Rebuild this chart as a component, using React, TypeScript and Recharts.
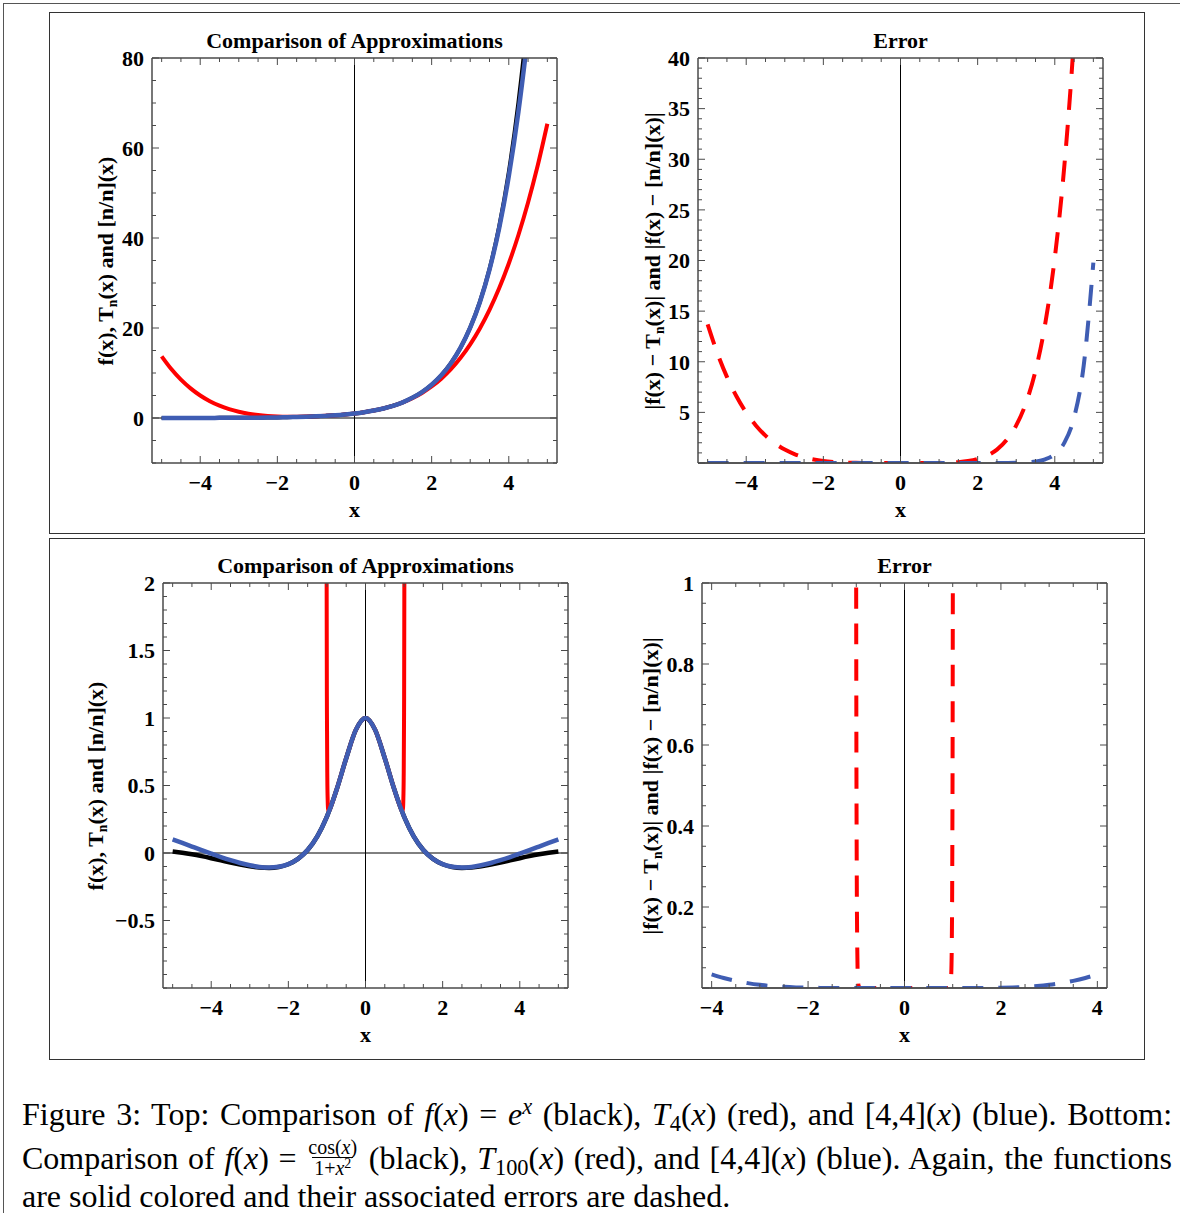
import React from 'react';
import { LineChart, Line, XAxis, YAxis, ReferenceLine } from 'recharts';

// top row: f(x) = e^x, T4 and [4/4]
const xTop = [
  -5, -4.75, -4.5, -4.25, -4, -3.75, -3.5, -3.25, -3, -2.75, -2.5, -2.25, -2, -1.75, -1.5, -1.25, -1, -0.75, -0.5, -0.25,
  0, 0.25, 0.5, 0.75, 1, 1.25, 1.5, 1.75, 2, 2.25, 2.5, 2.75, 3, 3.25, 3.5, 3.75, 4, 4.25, 4.5, 4.75, 5,
];
const expTop = [
  0.0067, 0.0087, 0.0111, 0.0143, 0.0183, 0.0235, 0.0302, 0.0388, 0.0498, 0.0639, 0.0821, 0.1054, 0.1353, 0.1738, 0.2231,
  0.2865, 0.3679, 0.4724, 0.6065, 0.7788, 1, 1.284, 1.649, 2.117, 2.718, 3.49, 4.482, 5.755, 7.389, 9.488, 12.18, 15.64,
  20.09, 25.79, 33.12, 42.52, 54.6, 70.11, 90.02, 115.6, 148.4,
];
const taylorTop = [
  13.71, 10.88, 8.523, 6.581, 5.0, 3.732, 2.732, 1.959, 1.375, 0.948, 0.648, 0.451, 0.333, 0.279, 0.273, 0.307, 0.375,
  0.474, 0.607, 0.779, 1, 1.284, 1.648, 2.115, 2.708, 3.458, 4.398, 5.565, 7.0, 8.747, 10.86, 13.38, 16.38, 19.9, 24.02,
  28.81, 34.33, 40.67, 47.9, 56.1, 65.38,
];
const padeTop = [
  0.0078, 0.0094, 0.0117, 0.0147, 0.0186, 0.0237, 0.0303, 0.0389, 0.0498, 0.0639, 0.0821, 0.1054, 0.1353, 0.1738, 0.2231,
  0.2865, 0.3679, 0.4724, 0.6065, 0.7788, 1, 1.284, 1.649, 2.117, 2.718, 3.49, 4.482, 5.755, 7.389, 9.487, 12.18, 15.64,
  20.07, 25.74, 32.97, 42.16, 53.73, 68.09, 85.53, 105.9, 128.6,
];
const errTaylorTop = [
  13.7, 10.87, 8.512, 6.567, 4.982, 3.708, 2.702, 1.92, 1.325, 0.884, 0.566, 0.346, 0.198, 0.105, 0.05, 0.021, 0.007,
  0.002, 0.0003, 0, 0, 0, 0.0003, 0.002, 0.01, 0.032, 0.084, 0.19, 0.389, 0.741, 1.325, 2.262, 3.711, 5.889, 9.091, 13.71,
  20.27, 29.44, 42.12, 59.5, 83.0,
];
const errPadeTop = [
  0.0011, 0.0007, 0.0006, 0.0004, 0.0003, 0.0002, 0.0001, 0.0001, 0, 0, 0, 0, 0, 0, 0, 0, 0, 0, 0, 0, 0, 0, 0, 0, 0, 0, 0,
  0, 0, 0.001, 0.002, 0.007, 0.02, 0.055, 0.144, 0.36, 0.871, 2.01, 4.49, 9.63, 19.79,
];

// bottom row: f(x) = cos(x)/(1+x^2), T100 and [4/4]
const xBot = [
  -5, -4.75, -4.5, -4.25, -4, -3.75, -3.5, -3.25, -3, -2.75, -2.5, -2.25, -2, -1.75, -1.5, -1.25,
  -1.02, -1.01, -1, -0.99, -0.98, -0.97, -0.95, -0.9, -0.75, -0.5, -0.25, 0, 0.25, 0.5, 0.75,
  0.9, 0.95, 0.97, 0.98, 0.99, 1, 1.01, 1.02,
  1.25, 1.5, 1.75, 2, 2.25, 2.5, 2.75, 3, 3.25, 3.5, 3.75, 4, 4.25, 4.5, 4.75, 5,
];
const fBot = [
  0.0109, 0.0016, -0.0099, -0.0234, -0.0385, -0.0545, -0.0707, -0.086, -0.099, -0.108, -0.1105, -0.1036, -0.0832, -0.0439,
  0.0218, 0.1231, 0.2565, 0.2633, 0.2702, 0.2771, 0.2841, 0.2913, 0.3057, 0.3434, 0.4683, 0.7021, 0.9119, 1, 0.9119,
  0.7021, 0.4683, 0.3434, 0.3057, 0.2913, 0.2841, 0.2771, 0.2702, 0.2633, 0.2565, 0.1231, 0.0218, -0.0439, -0.0832,
  -0.1036, -0.1105, -0.108, -0.099, -0.086, -0.0707, -0.0545, -0.0385, -0.0234, -0.0099, 0.0016, 0.0109,
];
const padeBot = [
  0.1003, 0.0742, 0.0477, 0.0213, -0.0046, -0.0297, -0.0531, -0.074, -0.0912, -0.1032, -0.1077, -0.1022, -0.0825, -0.0436,
  0.0219, 0.1231, 0.2565, 0.2633, 0.2702, 0.2771, 0.2841, 0.2913, 0.3057, 0.3434, 0.4683, 0.7021, 0.9119, 1, 0.9119,
  0.7021, 0.4683, 0.3434, 0.3057, 0.2913, 0.2841, 0.2771, 0.2702, 0.2633, 0.2565, 0.1231, 0.0219, -0.0436, -0.0825,
  -0.1022, -0.1077, -0.1032, -0.0912, -0.074, -0.0531, -0.0297, -0.0046, 0.0213, 0.0477, 0.0742, 0.1003,
];
const taylorBot = [
  null, null, null, null, null, null, null, null, null, null, null, null, null, null, null, null,
  5.957, 2.371, 1.0417, 0.5567, 0.3844, 0.3269, 0.3101, 0.3434, 0.4683, 0.7021, 0.9119, 1, 0.9119, 0.7021, 0.4683,
  0.3434, 0.3101, 0.3269, 0.3844, 0.5567, 1.0417, 2.371, 5.957,
  null, null, null, null, null, null, null, null, null, null, null, null, null, null, null, null,
];

const xErrBot = [
  -4, -3.75, -3.5, -3.25, -3, -2.75, -2.5, -2.25, -2, -1.75, -1.5, -1.25,
  -1.02, -1.01, -1, -0.99, -0.98, -0.97, -0.95, -0.9, -0.75, -0.5, -0.25, 0, 0.25, 0.5, 0.75,
  0.9, 0.95, 0.97, 0.98, 0.99, 1, 1.01, 1.02,
  1.25, 1.5, 1.75, 2, 2.25, 2.5, 2.75, 3, 3.25, 3.5, 3.75, 4,
];
const errTaylorBot = [
  null, null, null, null, null, null, null, null, null, null, null, null,
  5.7, 2.108, 0.7715, 0.2796, 0.1003, 0.0356, 0.0043, 0, 0, 0, 0, 0, 0, 0, 0,
  0, 0.0043, 0.0356, 0.1003, 0.2796, 0.7715, 2.108, 5.7,
  null, null, null, null, null, null, null, null, null, null, null, null,
];
const errPadeBot = [
  0.0338, 0.0248, 0.0176, 0.012, 0.0078, 0.0048, 0.0028, 0.0015, 0.0007, 0.0003, 0.0001, 0,
  0, 0, 0, 0, 0, 0, 0, 0, 0, 0, 0, 0, 0, 0, 0,
  0, 0, 0, 0, 0, 0, 0, 0,
  0, 0.0001, 0.0003, 0.0007, 0.0015, 0.0028, 0.0048, 0.0078, 0.012, 0.0176, 0.0248, 0.0338,
];

// ticks
const xLabelTicks = [-4, -2, 0, 2, 4];
const xMarksWide = [-5, -4.5, -4, -3.5, -3, -2.5, -2, -1.5, -1, -0.5, 0, 0.5, 1, 1.5, 2, 2.5, 3, 3.5, 4, 4.5, 5];
const xMarksNarrow = [-4, -3.5, -3, -2.5, -2, -1.5, -1, -0.5, 0, 0.5, 1, 1.5, 2, 2.5, 3, 3.5, 4];
const yTicksTL = [0, 20, 40, 60, 80];
const yMarksTL = [-10, -5, 0, 5, 10, 15, 20, 25, 30, 35, 40, 45, 50, 55, 60, 65, 70, 75, 80];
const yTicksTR = [5, 10, 15, 20, 25, 30, 35, 40];
const yMajorTR = [0, 5, 10, 15, 20, 25, 30, 35, 40];
const yMarksTR = [
  0, 1, 2, 3, 4, 5, 6, 7, 8, 9, 10, 11, 12, 13, 14, 15, 16, 17, 18, 19, 20, 21, 22, 23, 24, 25, 26, 27, 28, 29, 30, 31,
  32, 33, 34, 35, 36, 37, 38, 39, 40,
];
const yTicksBL = [-0.5, 0, 0.5, 1, 1.5, 2];
const yMarksBL = [
  -1, -0.9, -0.8, -0.7, -0.6, -0.5, -0.4, -0.3, -0.2, -0.1, 0, 0.1, 0.2, 0.3, 0.4, 0.5, 0.6, 0.7, 0.8, 0.9, 1, 1.1, 1.2,
  1.3, 1.4, 1.5, 1.6, 1.7, 1.8, 1.9, 2,
];
const yTicksBR = [0.2, 0.4, 0.6, 0.8, 1];
const yMajorBR = [0, 0.2, 0.4, 0.6, 0.8, 1];
const yMarksBR = [
  0, 0.05, 0.1, 0.15, 0.2, 0.25, 0.3, 0.35, 0.4, 0.45, 0.5, 0.55, 0.6, 0.65, 0.7, 0.75, 0.8, 0.85, 0.9, 0.95, 1,
];

const FONT = '"Liberation Serif", "Times New Roman", serif';
const RED = '#ff0000';
const BLUE = '#3f5db3';
const FRAME = '#4a4a4a';
const DASH = '21 15';

const PLOT = 405;
const PAD_L = 90;
const PAD_R = 12;
const PAD_T = 12;
const PAD_B = 60;

const TICK_TEXT = { fontFamily: FONT, fontSize: 22, fontWeight: 'bold', fill: '#000' };

type Row = Record<string, number | null>;

function buildRows(x: number[], cols: Record<string, (number | null)[]>): Row[] {
  return x.map((v, i) => {
    const r: Row = { x: v };
    Object.keys(cols).forEach((k) => {
      r[k] = cols[k][i];
    });
    return r;
  });
}

const fmt = (v: number) => (v < 0 ? '\u2212' + Math.abs(v) : String(v));

// draws the inward frame ticks, long for majors, short for minors
const tickMark = (dir: 'up' | 'down' | 'left' | 'right', majors: number[]) => (p: any) => {
  const v = p.payload ? p.payload.value : 0;
  const big = majors.some((m) => Math.abs(m - v) < 1e-6);
  const len = big ? 7 : 4;
  const x2 = dir === 'left' ? p.x - len : dir === 'right' ? p.x + len : p.x;
  const y2 = dir === 'up' ? p.y - len : dir === 'down' ? p.y + len : p.y;
  return <line x1={p.x} y1={p.y} x2={x2} y2={y2} stroke={FRAME} strokeWidth={1} />;
};

type LineSpec = { key: string; color: string; width: number; dash?: string };

type PanelProps = {
  left: number;
  top: number;
  data: Row[];
  xDomain: [number, number];
  yDomain: [number, number];
  xMarks: number[];
  yTicks: number[];
  yMajor: number[];
  yMarks: number[];
  lines: LineSpec[];
};

function Panel({ left, top, data, xDomain, yDomain, xMarks, yTicks, yMajor, yMarks, lines }: PanelProps) {
  const W = PLOT + PAD_L + PAD_R;
  const H = PLOT + PAD_T + PAD_B;
  const frame = { stroke: FRAME, strokeWidth: 1.5 };
  return (
    <div style={{ position: 'absolute', left: left - PAD_L, top: top - PAD_T, width: W, height: H }}>
      <LineChart width={W} height={H} data={data} margin={{ top: PAD_T, right: PAD_R, bottom: 0, left: 0 }}>
        <XAxis
          xAxisId="x"
          dataKey="x"
          type="number"
          domain={xDomain}
          allowDataOverflow
          ticks={xLabelTicks}
          interval={0}
          tickFormatter={fmt}
          tick={TICK_TEXT}
          tickLine={false}
          tickSize={0}
          tickMargin={11}
          height={PAD_B}
          axisLine={frame}
        />
        <XAxis
          xAxisId="xb"
          dataKey="x"
          type="number"
          orientation="bottom"
          mirror
          height={1}
          domain={xDomain}
          allowDataOverflow
          ticks={xMarks}
          interval={0}
          tick={tickMark('up', xLabelTicks)}
          tickLine={false}
          tickSize={0}
          tickMargin={0}
          axisLine={false}
        />
        <XAxis
          xAxisId="xt"
          dataKey="x"
          type="number"
          orientation="top"
          mirror
          height={1}
          domain={xDomain}
          allowDataOverflow
          ticks={xMarks}
          interval={0}
          tick={tickMark('down', xLabelTicks)}
          tickLine={false}
          tickSize={0}
          tickMargin={0}
          axisLine={frame}
        />
        <YAxis
          yAxisId="y"
          type="number"
          domain={yDomain}
          allowDataOverflow
          ticks={yTicks}
          interval={0}
          tickFormatter={fmt}
          tick={TICK_TEXT}
          tickLine={false}
          tickSize={0}
          tickMargin={8}
          width={PAD_L}
          axisLine={frame}
        />
        <YAxis
          yAxisId="yl"
          type="number"
          orientation="left"
          mirror
          width={1}
          domain={yDomain}
          allowDataOverflow
          ticks={yMarks}
          interval={0}
          tick={tickMark('right', yMajor)}
          tickLine={false}
          tickSize={0}
          tickMargin={0}
          axisLine={false}
        />
        <YAxis
          yAxisId="yr"
          type="number"
          orientation="right"
          mirror
          width={1}
          domain={yDomain}
          allowDataOverflow
          ticks={yMarks}
          interval={0}
          tick={tickMark('left', yMajor)}
          tickLine={false}
          tickSize={0}
          tickMargin={0}
          axisLine={frame}
        />
        <ReferenceLine xAxisId="x" yAxisId="y" x={0} stroke="#000" strokeWidth={1} />
        <ReferenceLine xAxisId="x" yAxisId="y" y={0} stroke="#000" strokeWidth={1} />
        {lines.map((l) => (
          <Line
            key={l.key}
            xAxisId="x"
            yAxisId="y"
            dataKey={l.key}
            type="monotone"
            dot={false}
            activeDot={false}
            stroke={l.color}
            strokeWidth={l.width}
            strokeDasharray={l.dash}
            connectNulls={false}
            isAnimationActive={false}
          />
        ))}
      </LineChart>
    </div>
  );
}

const sub = { fontSize: '0.62em', verticalAlign: '-0.28em', lineHeight: 0 } as React.CSSProperties;

const labelStyle = (cx: number, cy: number, rotate = false): React.CSSProperties => ({
  position: 'absolute',
  left: cx,
  top: cy,
  transform: rotate ? 'translate(-50%, -50%) rotate(-90deg)' : 'translate(-50%, -50%)',
  fontFamily: FONT,
  fontWeight: 'bold',
  fontSize: 22,
  lineHeight: 1,
  whiteSpace: 'nowrap',
  color: '#000',
});

const YLabelLeft = () => (
  <span>
    f(x), T<span style={sub}>n</span>(x) and [n/n](x)
  </span>
);
const YLabelErr = () => (
  <span>
    |f(x) {'\u2212'} T<span style={sub}>n</span>(x)| and |f(x) {'\u2212'} [n/n](x)|
  </span>
);

const capLine = (top: number, justify: boolean): React.CSSProperties => ({
  position: 'absolute',
  left: 22,
  top,
  width: 1150,
  height: 32,
  fontFamily: FONT,
  fontSize: 32,
  lineHeight: '32px',
  whiteSpace: 'nowrap',
  textAlign: justify ? 'justify' : 'left',
  textAlignLast: justify ? 'justify' : 'left',
  color: '#000',
});
const csub = { fontSize: '0.7em', verticalAlign: '-0.25em', lineHeight: 0 } as React.CSSProperties;
const csup = { fontSize: '0.7em', verticalAlign: '0.5em', lineHeight: 0 } as React.CSSProperties;

export default function App() {
  const topData = buildRows(xTop, { f: expTop, t: taylorTop, p: padeTop });
  const topErr = buildRows(xTop, { et: errTaylorTop, ep: errPadeTop });
  const botData = buildRows(xBot, { f: fBot, t: taylorBot, p: padeBot });
  const botErr = buildRows(xErrBot, { et: errTaylorBot, ep: errPadeBot });

  return (
    <div style={{ position: 'absolute', left: 0, top: 0, width: 1180, height: 1213, background: '#fff', overflow: 'hidden' }}>
      <div
        style={{
          position: 'absolute',
          left: 3,
          top: 3,
          width: 1200,
          height: 1230,
          borderTop: '1.5px solid #555',
          borderLeft: '1.5px solid #555',
        }}
      />
      <div
        style={{ position: 'absolute', left: 49, top: 12, width: 1096, height: 522, border: '1.5px solid #333', boxSizing: 'border-box' }}
      />
      <div
        style={{ position: 'absolute', left: 49, top: 538, width: 1096, height: 522, border: '1.5px solid #333', boxSizing: 'border-box' }}
      />

      <Panel
        left={152}
        top={58}
        data={topData}
        xDomain={[-5.25, 5.25]}
        yDomain={[-10, 80]}
        xMarks={xMarksWide}
        yTicks={yTicksTL}
        yMajor={yTicksTL}
        yMarks={yMarksTL}
        lines={[
          { key: 'f', color: '#000', width: 4 },
          { key: 't', color: RED, width: 4 },
          { key: 'p', color: BLUE, width: 4.5 },
        ]}
      />
      <Panel
        left={698}
        top={58}
        data={topErr}
        xDomain={[-5.25, 5.25]}
        yDomain={[0, 40]}
        xMarks={xMarksWide}
        yTicks={yTicksTR}
        yMajor={yMajorTR}
        yMarks={yMarksTR}
        lines={[
          { key: 'et', color: RED, width: 4, dash: DASH },
          { key: 'ep', color: BLUE, width: 4, dash: DASH },
        ]}
      />
      <Panel
        left={163}
        top={583}
        data={botData}
        xDomain={[-5.25, 5.25]}
        yDomain={[-1, 2]}
        xMarks={xMarksWide}
        yTicks={yTicksBL}
        yMajor={yTicksBL}
        yMarks={yMarksBL}
        lines={[
          { key: 'f', color: '#000', width: 4.5 },
          { key: 't', color: RED, width: 4 },
          { key: 'p', color: BLUE, width: 4.5 },
        ]}
      />
      <Panel
        left={702}
        top={583}
        data={botErr}
        xDomain={[-4.2, 4.2]}
        yDomain={[0, 1]}
        xMarks={xMarksNarrow}
        yTicks={yTicksBR}
        yMajor={yMajorBR}
        yMarks={yMarksBR}
        lines={[
          { key: 'et', color: RED, width: 4, dash: DASH },
          { key: 'ep', color: BLUE, width: 4, dash: DASH },
        ]}
      />

      <div style={labelStyle(354.5, 41)}>Comparison of Approximations</div>
      <div style={labelStyle(900.5, 41)}>Error</div>
      <div style={labelStyle(365.5, 566)}>Comparison of Approximations</div>
      <div style={labelStyle(904.5, 566)}>Error</div>

      <div style={labelStyle(354.5, 510)}>x</div>
      <div style={labelStyle(900.5, 510)}>x</div>
      <div style={labelStyle(365.5, 1035)}>x</div>
      <div style={labelStyle(904.5, 1035)}>x</div>

      <div style={labelStyle(106, 260.5, true)}>
        <YLabelLeft />
      </div>
      <div style={labelStyle(653, 260.5, true)}>
        <YLabelErr />
      </div>
      <div style={labelStyle(96, 785.5, true)}>
        <YLabelLeft />
      </div>
      <div style={labelStyle(651, 785.5, true)}>
        <YLabelErr />
      </div>

      <div style={capLine(1098, true)}>
        Figure 3: Top: Comparison of <i>f</i>(<i>x</i>) = <i>e</i>
        <span style={csup}>
          <i>x</i>
        </span>{' '}
        (black), <i>T</i>
        <span style={csub}>4</span>(<i>x</i>) (red), and [4,4](<i>x</i>) (blue). Bottom:
      </div>
      <div style={capLine(1142, true)}>
        Comparison of <i>f</i>(<i>x</i>) ={' '}
        <span
          style={{
            display: 'inline-flex',
            flexDirection: 'column',
            alignItems: 'center',
            verticalAlign: 'middle',
            fontSize: 20,
            lineHeight: '18px',
            marginTop: -30,
            marginBottom: -30,
            position: 'relative',
            top: -4,
          }}
        >
          <span style={{ padding: '0 2px 1px' }}>
            cos(<i>x</i>)
          </span>
          <span style={{ borderTop: '1px solid #000', padding: '1px 2px 0' }}>
            1+<i>x</i>
            <span style={csup}>2</span>
          </span>
        </span>{' '}
        (black), <i>T</i>
        <span style={csub}>100</span>(<i>x</i>) (red), and [4,4](<i>x</i>) (blue). Again, the functions
      </div>
      <div style={capLine(1180, false)}>are solid colored and their associated errors are dashed.</div>
    </div>
  );
}
